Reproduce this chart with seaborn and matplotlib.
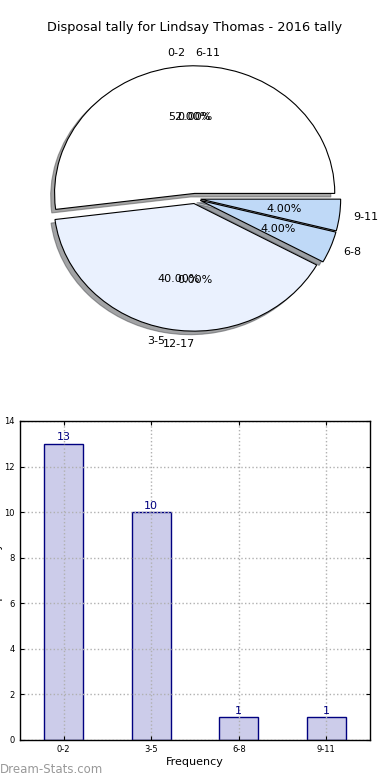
import numpy as np
import matplotlib
matplotlib.use("Agg")
import matplotlib.pyplot as plt
import seaborn as sns

# data
pie_labels = ["0-2", "3-5", "6-8", "9-11"]
pie_values = [13, 10, 1, 1]
zero_labels = ["6-11", "12-17"]
zero_values = [0, 0]

bar_labels = ["0-2", "3-5", "6-8", "9-11"]
bar_values = [13, 10, 1, 1]

title = "Disposal tally for Lindsay Thomas - 2016 tally"

sns.set_style("white")
plt.rcParams["font.family"] = ["DejaVu Sans"]
plt.rcParams["text.color"] = "black"
plt.rcParams["axes.labelcolor"] = "black"
plt.rcParams["xtick.color"] = "black"
plt.rcParams["ytick.color"] = "black"

fig = plt.figure(figsize=(3.9, 7.8), dpi=100)

# ---- pie ----
ax1 = fig.add_axes([0.051, 0.541, 0.898, 0.409])
pie_colors = ["#ffffff", "#eaf1fe", "#bfd9f7", "#bfd9f7"]
explode = [0.04] * len(pie_values)
wedges, texts, autotexts = ax1.pie(
    pie_values,
    labels=pie_labels,
    colors=pie_colors,
    explode=explode,
    autopct="%.2f%%",
    shadow=True,
    startangle=0,
    wedgeprops={"edgecolor": "black", "linewidth": 0.8},
    textprops={"fontsize": 8, "color": "black"},
)
# empty categories: labels sit where the site drew them
zero_angles = [90, 270]
for lab, val, ang in zip(zero_labels, zero_values, zero_angles):
    t = np.deg2rad(ang)
    r_lab = 1.1 + 0.04
    r_pct = 0.6 + 0.04
    ha = "left" if ang < 180 else "right"
    ax1.text(r_lab * np.cos(t), r_lab * np.sin(t), lab, ha=ha, va="center", fontsize=8)
    pct = 100.0 * val / sum(pie_values)
    ax1.text(r_pct * np.cos(t), r_pct * np.sin(t), "%.2f%%" % pct,
             ha="center", va="center", fontsize=8)
ax1.set_aspect("auto")
ax1.set_xlim(-1.25, 1.25)
ax1.set_ylim(-1.25, 1.25)
ax1.set_title(title, fontsize=9.3)

# ---- bars ----
ax2 = fig.add_axes([0.051, 0.0513, 0.898, 0.409])
sns.barplot(x=bar_labels, y=bar_values, color="#ccccea", edgecolor="#000080",
            linewidth=1, width=0.45, saturation=1, ax=ax2)
ax2.bar_label(ax2.containers[0], padding=1, color="#000080", fontsize=8)
ax2.set_ylim(0, 14)
ax2.set_yticks(range(0, 15, 2))
ax2.set_xlim(-0.5, 3.5)
ax2.set_axisbelow("line")
ax2.grid(True, linestyle=":", color="#b0b0b0", linewidth=1)
ax2.tick_params(axis="both", labelsize=6, direction="in", length=3,
                top=True, right=True, bottom=True, left=True)
for s in ax2.spines.values():
    s.set_color("black")
    s.set_linewidth(1)
ax2.set_xlabel("Frequency", fontsize=8, labelpad=2)
ax2.set_ylabel("Disposal Tally", fontsize=8)
ax2.yaxis.set_label_coords(-0.047, 0.5)

fig.text(0.0, 0.005, "Dream-Stats.com", fontsize=8.5, color="#999999",
         ha="left", va="bottom")

fig.savefig("out.png", dpi=100)
